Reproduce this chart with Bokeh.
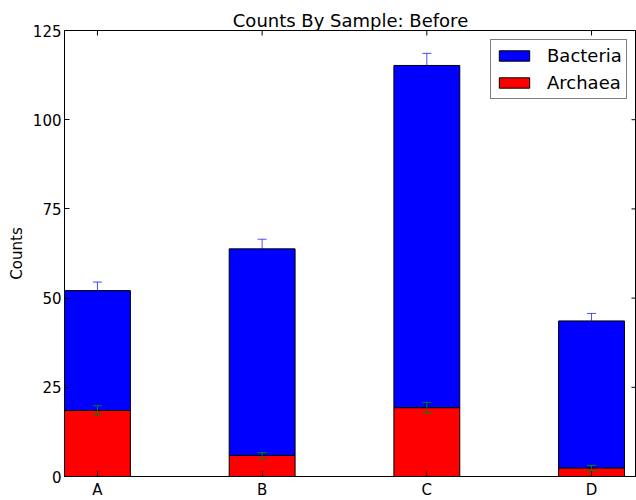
import math
from bokeh.plotting import figure
from bokeh.models import (ColumnDataSource, Whisker, TeeHead, Legend, LegendItem,
                          FixedTicker, Range1d)
from bokeh.embed import file_html
from bokeh.resources import INLINE

samples = ["A", "B", "C", "D"]
archaea = [18.5, 5.9, 19.3, 2.4]
archaea_err = [1.35, 0.8, 1.45, 0.7]
bacteria = [33.6, 57.9, 95.9, 41.2]
bacteria_err = [2.4, 2.7, 3.4, 2.1]
y_ticks = [0, 25, 50, 75, 100, 125]

FONT = "DejaVu Sans"
pos = list(range(len(samples)))
totals = [a + b for a, b in zip(archaea, bacteria)]
X_START, X_END = -0.2, 3.273
Y_START, Y_END = y_ticks[0], y_ticks[-1]

src = ColumnDataSource(dict(
    x=pos,
    arch=archaea,
    total=totals,
    a_lo=[a - e for a, e in zip(archaea, archaea_err)],
    a_hi=[a + e for a, e in zip(archaea, archaea_err)],
    b_lo=[t - e for t, e in zip(totals, bacteria_err)],
    b_hi=[t + e for t, e in zip(totals, bacteria_err)],
))

p = figure(frame_width=572, frame_height=446, output_backend="svg", toolbar_location=None,
           x_range=Range1d(X_START, X_END), y_range=Range1d(Y_START, Y_END),
           min_border_left=64, min_border_right=0, min_border_top=30,
           min_border_bottom=10)
p.title.text = "Counts By Sample: Before"
p.title.align = "center"
p.title.text_font = FONT
p.title.text_font_size = "18px"
p.title.text_font_style = "normal"
p.title.text_color = "black"
p.title.standoff = 0

p.grid.visible = False
p.outline_line_color = "black"
p.outline_line_width = 1
p.background_fill_color = "white"
p.border_fill_color = "white"

r_arch = p.vbar(x="x", top="arch", bottom=0, width=0.4, source=src,
                fill_color="#ff0000", line_color="black", line_width=1)
r_bact = p.vbar(x="x", top="total", bottom="arch", width=0.4, source=src,
                fill_color="#0000ff", line_color="black", line_width=1)

def whisker(lo, hi, color, alpha):
    w = Whisker(base="x", lower=lo, upper=hi, source=src,
                line_color=color, line_alpha=alpha, line_width=1,
                upper_head=TeeHead(size=9, line_color=color, line_alpha=alpha, line_width=1),
                lower_head=TeeHead(size=9, line_color=color, line_alpha=alpha, line_width=1))
    w.level = "overlay"
    p.add_layout(w)

whisker("b_lo", "b_hi", "#0000ff", 0.7)
whisker("a_lo", "a_hi", "#008000", 1.0)

# inward ticks on the top and right spines
p.ray(x=pos, y=[Y_END] * len(pos), length=5, length_units="screen",
      angle=-math.pi / 2, line_color="black", line_width=1)
p.ray(x=[X_END] * len(y_ticks), y=y_ticks, length=5, length_units="screen",
      angle=math.pi, line_color="black", line_width=1)

# axes
xa = p.xaxis[0]
xa.ticker = FixedTicker(ticks=pos)
xa.major_label_overrides = {i: s for i, s in zip(pos, samples)}
ya = p.yaxis[0]
ya.ticker = FixedTicker(ticks=y_ticks)
ya.axis_label = "Counts"
for ax in (xa, ya):
    ax.major_tick_in = 5
    ax.major_tick_out = 0
    ax.minor_tick_line_color = None
    ax.axis_line_color = "black"
    ax.major_tick_line_color = "black"
    ax.major_label_text_font = FONT
    ax.major_label_text_font_size = "15px"
    ax.major_label_text_color = "black"
    ax.axis_label_text_font = FONT
    ax.axis_label_text_font_size = "15px"
    ax.axis_label_text_font_style = "normal"
    ax.axis_label_text_color = "black"
xa.major_label_standoff = 4
ya.major_label_standoff = 3
ya.axis_label_standoff = 4

legend = Legend(items=[LegendItem(label="Bacteria", renderers=[r_bact]),
                       LegendItem(label="Archaea", renderers=[r_arch])],
                location=(426, 377))
legend.label_text_font = FONT
legend.label_text_font_size = "18px"
legend.label_text_color = "black"
legend.glyph_width = 38
legend.glyph_height = 13
legend.label_standoff = 14
legend.label_height = 23
legend.spacing = 4
legend.padding = 4
legend.margin = 0
legend.border_line_color = "black"
legend.border_line_width = 1
legend.background_fill_alpha = 1
p.add_layout(legend)

open("out.html", "w").write(file_html(p, INLINE))
